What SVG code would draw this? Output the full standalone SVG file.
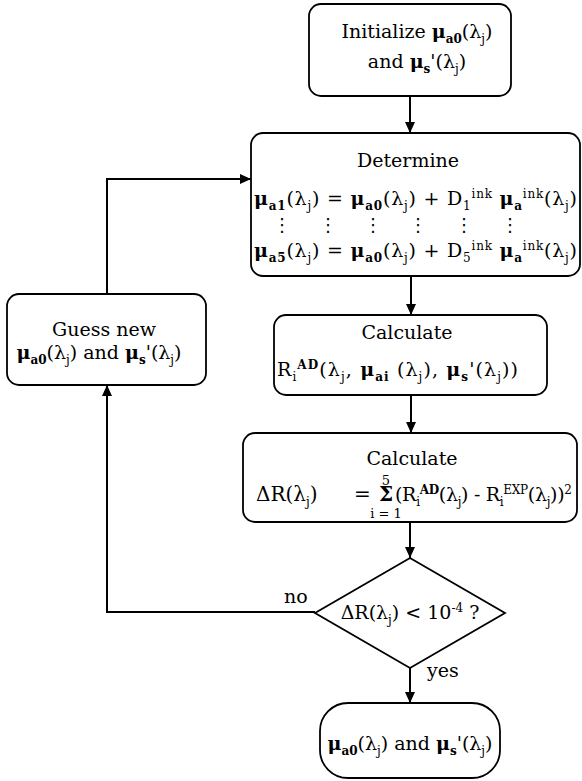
<svg xmlns="http://www.w3.org/2000/svg" width="582" height="781" viewBox="0 0 582 781">
<style>
.box{fill:#fff;stroke:#000;stroke-width:1.8}
.ln{fill:none;stroke:#000;stroke-width:2}
.t{font-family:"DejaVu Serif","Liberation Serif",serif;font-size:19px;fill:#000}
.b{font-weight:bold}
.sb{font-size:12px;font-weight:bold}
.s{font-size:12px}
.lim{font-family:"DejaVu Serif","Liberation Serif",serif;font-size:13px;fill:#000}
.big{font-family:"DejaVu Serif","Liberation Serif",serif;font-size:20px;fill:#000}
.dots{font-family:"DejaVu Sans",sans-serif;font-size:18px;fill:#000}
</style>
<defs>
<marker id="ah" markerUnits="userSpaceOnUse" markerWidth="12" markerHeight="10" refX="11" refY="5" orient="auto">
<path d="M0,0 L11,5 L0,10 z" fill="#000"/>
</marker>
</defs>
<rect width="582" height="781" fill="#fff"/>
<g id="connectors">
<line class="ln" x1="410" y1="96" x2="410" y2="133" marker-end="url(#ah)"/>
<line class="ln" x1="411" y1="276" x2="411" y2="315" marker-end="url(#ah)"/>
<line class="ln" x1="411" y1="395" x2="411" y2="433" marker-end="url(#ah)"/>
<line class="ln" x1="410" y1="522" x2="410" y2="558" marker-end="url(#ah)"/>
<line class="ln" x1="410" y1="668" x2="410" y2="703" marker-end="url(#ah)"/>
<polyline class="ln" points="315,612 107,612 107,385" marker-end="url(#ah)"/>
<polyline class="ln" points="107,294 107,179 251,179" marker-end="url(#ah)"/>
<text class="t" x="284" y="603">no</text>
<text class="t" x="427" y="677">yes</text>
</g>
<g id="init">
<rect class="box" x="309" y="4" width="202" height="92" rx="12"/>
<text class="t" x="417" y="38" text-anchor="middle">Initialize <tspan class="b">μ</tspan><tspan class="sb" dy="5">a0</tspan><tspan dy="-5">(λ</tspan><tspan class="s" dy="5">j</tspan><tspan dy="-5">)</tspan></text>
<text class="t" x="417" y="68" text-anchor="middle">and <tspan class="b">μ</tspan><tspan class="sb" dy="5">s</tspan><tspan dy="-5">'(λ</tspan><tspan class="s" dy="5">j</tspan><tspan dy="-5">)</tspan></text>
</g>
<g id="determine">
<rect class="box" x="251" y="133" width="329" height="143" rx="12"/>
<text class="t" x="408" y="167" text-anchor="middle">Determine</text>
<text class="t" x="254" y="205" textLength="323" lengthAdjust="spacing"><tspan class="b">μ</tspan><tspan class="sb" dy="5">a1</tspan><tspan dy="-5">(λ</tspan><tspan class="s" dy="5">j</tspan><tspan dy="-5">) = </tspan><tspan class="b">μ</tspan><tspan class="sb" dy="5">a0</tspan><tspan dy="-5">(λ</tspan><tspan class="s" dy="5">j</tspan><tspan dy="-5">) + D</tspan><tspan class="s" dy="5">1</tspan><tspan class="s" dy="-12">ink</tspan><tspan dy="7"> </tspan><tspan class="b">μ</tspan><tspan class="sb" dy="5">a</tspan><tspan class="s" dy="-12">ink</tspan><tspan dy="7">(λ</tspan><tspan class="s" dy="5">j</tspan><tspan dy="-5">)</tspan></text>
<text class="dots" x="282" y="231" text-anchor="middle">⋮</text>
<text class="dots" x="328" y="231" text-anchor="middle">⋮</text>
<text class="dots" x="373" y="231" text-anchor="middle">⋮</text>
<text class="dots" x="418" y="231" text-anchor="middle">⋮</text>
<text class="dots" x="464" y="231" text-anchor="middle">⋮</text>
<text class="dots" x="510" y="231" text-anchor="middle">⋮</text>
<text class="t" x="254" y="257" textLength="323" lengthAdjust="spacing"><tspan class="b">μ</tspan><tspan class="sb" dy="5">a5</tspan><tspan dy="-5">(λ</tspan><tspan class="s" dy="5">j</tspan><tspan dy="-5">) = </tspan><tspan class="b">μ</tspan><tspan class="sb" dy="5">a0</tspan><tspan dy="-5">(λ</tspan><tspan class="s" dy="5">j</tspan><tspan dy="-5">) + D</tspan><tspan class="s" dy="5">5</tspan><tspan class="s" dy="-12">ink</tspan><tspan dy="7"> </tspan><tspan class="b">μ</tspan><tspan class="sb" dy="5">a</tspan><tspan class="s" dy="-12">ink</tspan><tspan dy="7">(λ</tspan><tspan class="s" dy="5">j</tspan><tspan dy="-5">)</tspan></text>
</g>
<g id="calc-r">
<rect class="box" x="274" y="315" width="273" height="80" rx="12"/>
<text class="t" x="407" y="339" text-anchor="middle">Calculate</text>
<text class="t" x="277" y="376" textLength="241" lengthAdjust="spacing">R<tspan class="s" dy="5">i</tspan><tspan class="sb" dy="-12">AD</tspan><tspan dy="7">(λ</tspan><tspan class="s" dy="5">j</tspan><tspan dy="-5">, </tspan><tspan class="b">μ</tspan><tspan class="sb" dy="5">ai</tspan><tspan dy="-5"> (λ</tspan><tspan class="s" dy="5">j</tspan><tspan dy="-5">), </tspan><tspan class="b">μ</tspan><tspan class="sb" dy="5">s</tspan><tspan dy="-5">'(λ</tspan><tspan class="s" dy="5">j</tspan><tspan dy="-5">))</tspan></text>
</g>
<g id="calc-dr">
<rect class="box" x="243" y="433" width="334" height="89" rx="12"/>
<text class="t" x="412" y="465" text-anchor="middle">Calculate</text>
<text class="big" x="256" y="501">ΔR(λ<tspan class="s" dy="5">j</tspan><tspan dy="-5">)</tspan></text>
<text class="big" x="354" y="501">=</text>
<text class="big b" x="386" y="501" text-anchor="middle">Σ</text>
<text class="lim" x="386" y="485" text-anchor="middle">5</text>
<text class="lim" x="386" y="518" text-anchor="middle">i = 1</text>
<text class="t" x="395" y="501" textLength="177" lengthAdjust="spacing">(R<tspan class="s" dy="5">i</tspan><tspan class="sb" dy="-12">AD</tspan><tspan dy="7">(λ</tspan><tspan class="s" dy="5">j</tspan><tspan dy="-5">) - R</tspan><tspan class="s" dy="5">i</tspan><tspan class="s" dy="-12">EXP</tspan><tspan dy="7">(λ</tspan><tspan class="s" dy="5">j</tspan><tspan dy="-5">))</tspan><tspan class="s" dy="-7">2</tspan></text>
</g>
<g id="guess">
<rect class="box" x="7" y="294" width="199" height="91" rx="12"/>
<text class="t" x="104" y="336" text-anchor="middle">Guess new</text>
<text class="t" x="99" y="359" text-anchor="middle"><tspan class="b">μ</tspan><tspan class="sb" dy="5">a0</tspan><tspan dy="-5">(λ</tspan><tspan class="s" dy="5">j</tspan><tspan dy="-5">) and </tspan><tspan class="b">μ</tspan><tspan class="sb" dy="5">s</tspan><tspan dy="-5">'(λ</tspan><tspan class="s" dy="5">j</tspan><tspan dy="-5">)</tspan></text>
</g>
<g id="decision">
<polygon class="box" points="410,558 505,613 410,668 315,613"/>
<text class="t" x="410" y="619" text-anchor="middle">ΔR(λ<tspan class="s" dy="5">j</tspan><tspan dy="-5">) &lt; 10</tspan><tspan class="s" dy="-7">-4</tspan><tspan dy="7"> ?</tspan></text>
</g>
<g id="result">
<rect class="box" x="320" y="703" width="180" height="75" rx="28"/>
<text class="t" x="410" y="750" text-anchor="middle"><tspan class="b">μ</tspan><tspan class="sb" dy="5">a0</tspan><tspan dy="-5">(λ</tspan><tspan class="s" dy="5">j</tspan><tspan dy="-5">) and </tspan><tspan class="b">μ</tspan><tspan class="sb" dy="5">s</tspan><tspan dy="-5">'(λ</tspan><tspan class="s" dy="5">j</tspan><tspan dy="-5">)</tspan></text>
</g>
</svg>
